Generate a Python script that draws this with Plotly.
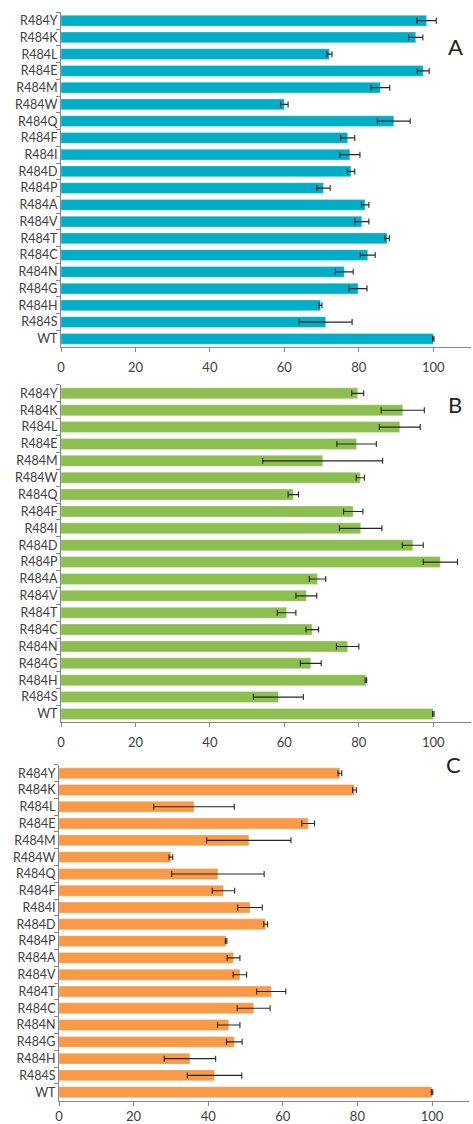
import plotly.graph_objects as go

# Variants, listed top to bottom as they appear on each panel
variants = ["R484Y", "R484K", "R484L", "R484E", "R484M", "R484W", "R484Q",
            "R484F", "R484I", "R484D", "R484P", "R484A", "R484V", "R484T",
            "R484C", "R484N", "R484G", "R484H", "R484S", "WT"]

# Panel A values and error
a_vals = [98.2, 95.3, 72.1, 97.3, 85.8, 60.0, 89.4, 77.0, 77.6, 77.9,
          70.5, 81.7, 80.8, 87.6, 82.4, 76.1, 79.8, 69.7, 71.1, 100.0]
a_err = [2.6, 1.9, 0.7, 1.6, 2.5, 1.0, 4.4, 1.9, 2.7, 1.0,
         1.8, 1.0, 1.9, 0.6, 2.0, 2.4, 2.4, 0.4, 7.1, 0.2]

# Panel B values and error
b_vals = [79.7, 91.8, 91.0, 79.4, 70.3, 80.4, 62.4, 78.5, 80.5, 94.5,
          101.9, 68.9, 65.9, 60.6, 67.5, 77.0, 67.1, 81.9, 58.4, 100.0]
b_err = [1.6, 5.8, 5.5, 5.3, 16.1, 1.1, 1.4, 2.6, 5.7, 2.8,
         4.6, 2.2, 2.8, 2.5, 1.7, 3.0, 2.8, 0.2, 6.7, 0.2]

# Panel C values and error
c_vals = [75.3, 79.2, 36.2, 66.8, 50.9, 30.0, 42.6, 44.1, 51.2, 55.4,
          44.8, 46.8, 48.5, 56.9, 52.2, 45.5, 47.0, 35.1, 41.7, 100.0]
c_err = [0.5, 0.5, 10.8, 1.7, 11.3, 0.5, 12.4, 3.0, 3.3, 0.5,
         0.2, 1.7, 1.8, 3.9, 4.4, 3.0, 2.1, 6.9, 7.3, 0.2]

x_ticks = [0, 20, 40, 60, 80, 100]
panel_labels = ["A", "B", "C"]

W, H = 473, 1124
panels = [
    # (values, errors, colour, x-domain px, y top px, y bottom px,
    #  panel-letter pos px, tick-label standoff)
    (a_vals, a_err, "#00AFC7", (61, 470.5), 12.3, 347.2, (465, 31), 4),
    (b_vals, b_err, "#8CBE50", (61, 470.5), 384.9, 722.4, (464, 404), 4),
    (c_vals, c_err, "#F89A48", (59, 469.3), 764.8, 1100.6, (463, 780), 0),
]

font_family = "Lato, 'Open Sans', sans-serif"
fig = go.Figure()
layout = dict(
    width=W, height=H,
    margin=dict(l=0, r=0, t=0, b=0, autoexpand=False),
    paper_bgcolor="white", plot_bgcolor="white",
    showlegend=False, bargap=0.35,
    font=dict(family=font_family, size=12, color="#404040"),
    annotations=[],
)

for i, (vals, errs, col, xdom, ytop, ybot, lab, standoff) in enumerate(panels):
    n = "" if i == 0 else str(i + 1)
    fig.add_trace(go.Bar(
        x=vals, y=variants, orientation="h",
        marker=dict(color=col, line=dict(color="rgba(255,255,255,0.5)", width=0.6)),
        error_x=dict(type="data", array=errs, visible=True,
                     color="#262626", thickness=1.1, width=3),
        xaxis="x" + n, yaxis="y" + n,
    ))
    layout["xaxis" + n] = dict(
        domain=[xdom[0] / W, xdom[1] / W], range=[0, 110],
        tickvals=x_ticks, ticks="outside", ticklen=4, tickcolor="#868686",
        showline=True, linecolor="#868686", linewidth=1,
        showgrid=False, zeroline=False, anchor="y" + n,
        automargin=False, ticklabelstandoff=standoff,
        tickfont=dict(size=13, color="#404040"),
    )
    layout["yaxis" + n] = dict(
        domain=[1 - ybot / H, 1 - ytop / H], autorange="reversed",
        type="category", categoryorder="array", categoryarray=variants,
        ticks="outside", ticklen=4, tickcolor="#868686", tickson="boundaries",
        showline=True, linecolor="#868686", linewidth=1,
        showgrid=False, zeroline=False, anchor="x" + n, automargin=False,
        tickfont=dict(size=12.5, color="#404040"),
    )
    layout["annotations"].append(dict(
        text=panel_labels[i], x=lab[0] / W, y=1 - lab[1] / H,
        xref="paper", yref="paper", showarrow=False,
        font=dict(size=22, color="#222222", family=font_family),
    ))

fig.update_layout(**layout)
fig.write_html("out.html")
